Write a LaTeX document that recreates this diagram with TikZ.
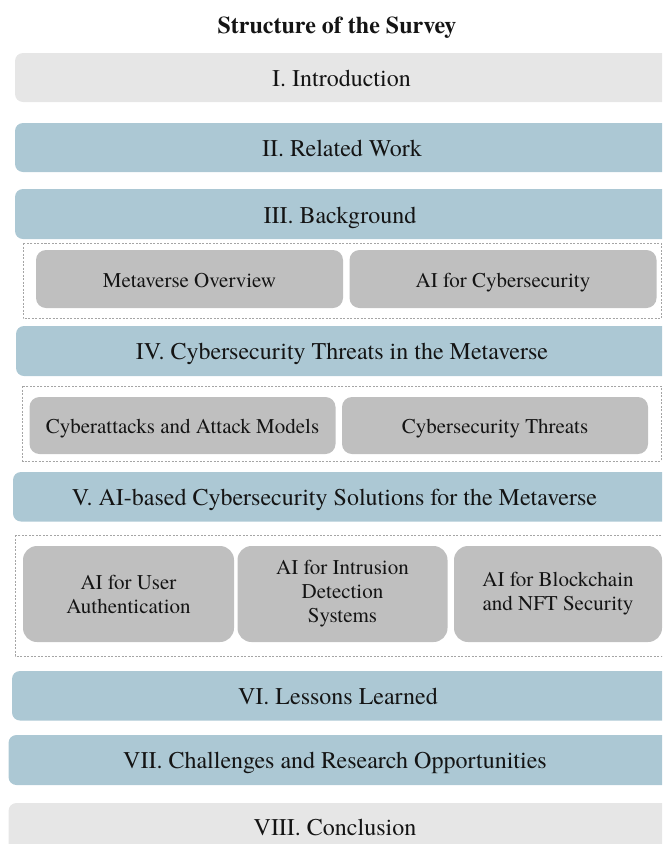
\documentclass[tikz,border=0pt]{standalone}
\usepackage{fontspec}
\setmainfont{texgyretermes}[Extension=.otf, UprightFont=*-regular, BoldFont=*-bold, ItalicFont=*-italic, BoldItalicFont=*-bolditalic]
\definecolor{introgray}{RGB}{230,230,230}
\definecolor{secblue}{RGB}{172,200,212}
\definecolor{subgray}{RGB}{191,191,191}
\definecolor{dashgray}{RGB}{165,165,165}
\definecolor{inkcol}{RGB}{20,20,20}
\tikzset{
  lightsec/.style={fill=introgray, rounded corners=8pt},
  bluesec/.style={fill=secblue, rounded corners=8pt},
  sectext/.style={inner sep=0pt, anchor=base, text=inkcol, font=\fontsize{24}{28}\selectfont},
  groupbox/.style={draw=dashgray, dashed, dash pattern=on 2pt off 1.5pt, line width=0.7pt},
  subbox/.style={fill=subgray, rounded corners=10pt, inner sep=0pt, outer sep=0pt,
    text=inkcol, font=\fontsize{21}{24}\selectfont, align=center},
  onelinebox/.style={subbox, text height=18pt, text depth=2pt},
  tallbox/.style={subbox, rounded corners=14pt}
}
\begin{document}
\begin{tikzpicture}[x=1pt,y=-1pt]
\useasboundingbox (0,0) rectangle (662,844);
\clip (0,0) rectangle (662,844);

% title
\node[inner sep=0pt, anchor=base, text=inkcol, font=\fontsize{24}{28}\selectfont\bfseries] (title) at (337,33) {Structure of the Survey};

% section bands (they run off the right edge); text sits on its baseline
\path[lightsec] (15,53) rectangle (690,102);
\node[sectext] (intro) at (341.5,86.5) {I. Introduction};

\path[bluesec] (15,123) rectangle (690,172);
\node[sectext] (related) at (342,156.5) {II. Related Work};

\path[bluesec] (15,189) rectangle (690,239);
\node[sectext] (backgr) at (340,223) {III. Background};

\draw[groupbox] (23,243) rectangle (661,318.5);
\node[onelinebox, minimum width=307pt, minimum height=58pt] (metaov) at (189.5,279) {Metaverse Overview};
\node[onelinebox, minimum width=307pt, minimum height=58pt] (aicyber) at (503,279) {AI for Cybersecurity};

\path[bluesec] (16,326) rectangle (690,376);
\node[sectext] (threatsec) at (342,359) {IV. Cybersecurity Threats in the Metaverse};

\draw[groupbox] (22.7,386) rectangle (661,461);
\node[onelinebox, minimum width=306pt, minimum height=57pt] (attacks) at (182.5,425.5) {Cyberattacks and Attack Models};
\node[onelinebox, minimum width=306pt, minimum height=57pt] (threats) at (495,425.5) {Cybersecurity Threats};

\path[bluesec] (13,472) rectangle (690,521.5);
\node[sectext] (solsec) at (334.5,505.5) {V. AI-based Cybersecurity Solutions for the Metaverse};

\draw[groupbox] (15,535) rectangle (700,656);
\node[tallbox, minimum width=211pt, minimum height=96pt] (userauth) at (128.5,594) {AI for User\\Authentication};
\node[tallbox, minimum width=210pt, minimum height=96pt] (ids) at (342.5,594) {AI for Intrusion\\Detection\\Systems};
\node[tallbox, minimum width=208pt, minimum height=96pt] (chain) at (558,594) {AI for Blockchain\\and NFT Security};

\path[bluesec] (12,671) rectangle (690,720.5);
\node[sectext] (lessons) at (338,704.5) {VI. Lessons Learned};

\path[bluesec] (8.5,735) rectangle (690,785);
\node[sectext] (challenges) at (335,768.5) {VII. Challenges and Research Opportunities};

\path[lightsec] (8.5,803) rectangle (690,860);
\node[sectext] (conclusion) at (335,835) {VIII. Conclusion};
\end{tikzpicture}
\end{document}
